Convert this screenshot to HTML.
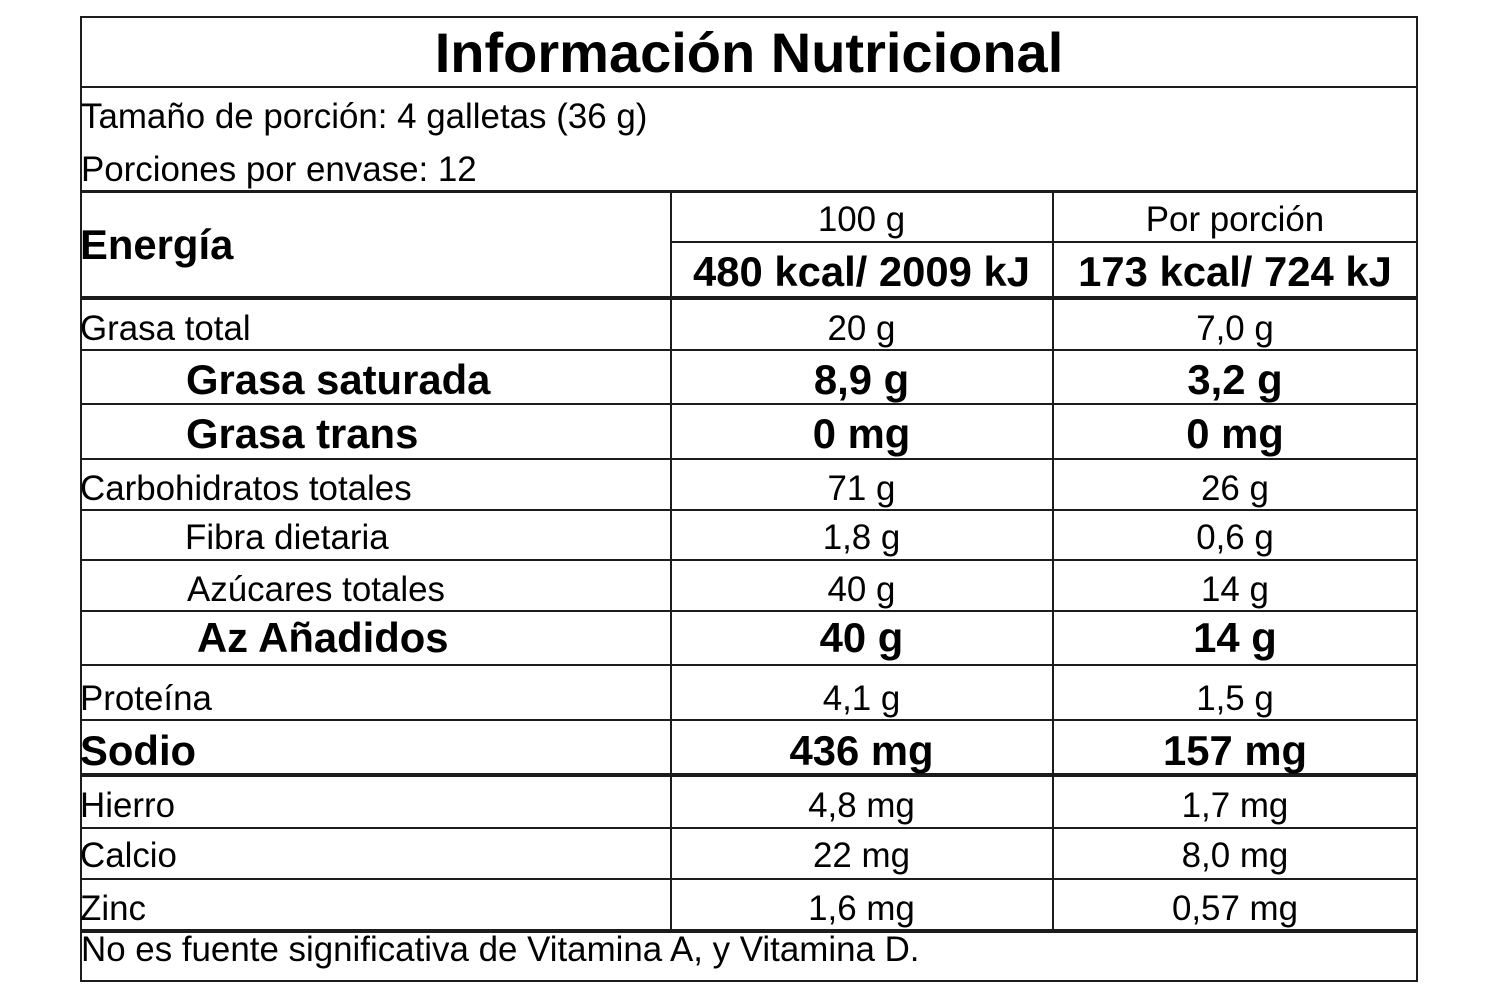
<!DOCTYPE html>
<html>
<head>
<meta charset="utf-8">
<style>
html,body{margin:0;padding:0;background:#fff;}
body{width:1500px;height:1000px;position:relative;overflow:hidden;font-family:"Liberation Sans",Arial,sans-serif;color:#000;}
.l{position:absolute;background:#1c1c1c;}
.t{position:absolute;white-space:nowrap;font-size:34.9px;line-height:34.9px;margin-top:-0.3px;}
.b{font-weight:bold;font-size:41.8px;line-height:41.8px;}
.c2{left:671px;width:381px;text-align:center;}
.c3{left:1053px;width:364px;text-align:center;}
</style>
</head>
<body>
<!-- outer border -->
<div class="l" style="left:80px;top:16px;width:1338px;height:2px;"></div>
<div class="l" style="left:80px;top:980px;width:1338px;height:2px;"></div>
<div class="l" style="left:80px;top:16px;width:2px;height:966px;"></div>
<div class="l" style="left:1416px;top:16px;width:2px;height:966px;"></div>

<!-- horizontal lines -->
<div class="l" style="left:80px;top:86px;width:1338px;height:2px;"></div>
<div class="l" style="left:80px;top:189.5px;width:1338px;height:3px;"></div>
<div class="l" style="left:670px;top:240.5px;width:748px;height:2px;"></div>
<div class="l" style="left:80px;top:295.5px;width:1338px;height:4px;"></div>
<div class="l" style="left:80px;top:348.5px;width:1338px;height:2px;"></div>
<div class="l" style="left:80px;top:403px;width:1338px;height:2px;"></div>
<div class="l" style="left:80px;top:457.5px;width:1338px;height:2px;"></div>
<div class="l" style="left:80px;top:508.5px;width:1338px;height:2px;"></div>
<div class="l" style="left:80px;top:558.5px;width:1338px;height:2px;"></div>
<div class="l" style="left:80px;top:609.5px;width:1338px;height:2px;"></div>
<div class="l" style="left:80px;top:663.5px;width:1338px;height:2px;"></div>
<div class="l" style="left:80px;top:718.5px;width:1338px;height:2px;"></div>
<div class="l" style="left:80px;top:773px;width:1338px;height:4px;"></div>
<div class="l" style="left:80px;top:826.5px;width:1338px;height:2px;"></div>
<div class="l" style="left:80px;top:877.5px;width:1338px;height:2px;"></div>
<div class="l" style="left:80px;top:928.5px;width:1338px;height:4px;"></div>

<!-- vertical column lines -->
<div class="l" style="left:669.5px;top:190px;width:2px;height:740px;"></div>
<div class="l" style="left:1051.5px;top:190px;width:2px;height:740px;"></div>

<!-- title -->
<div class="t" style="left:81px;width:1336px;text-align:center;top:25.3px;font-weight:bold;font-size:56px;line-height:56px;">Información Nutricional</div>

<div class="t" style="left:81px;top:100.2px;">Tamaño de porción: 4 galletas (36 g)</div>
<div class="t" style="left:81px;top:153.4px;">Porciones por envase: 12</div>

<div class="t b" style="left:80px;top:224.2px;">Energía</div>
<div class="t c2" style="top:203.4px;">100 g</div>
<div class="t c3" style="top:203.4px;">Por porción</div>
<div class="t b c2" style="top:251.6px;">480 kcal/ 2009 kJ</div>
<div class="t b c3" style="top:251.6px;">173 kcal/ 724 kJ</div>

<div class="t" style="left:80px;top:312.4px;">Grasa total</div>
<div class="t c2" style="top:312.4px;">20 g</div>
<div class="t c3" style="top:312.4px;">7,0 g</div>

<div class="t b" style="left:186px;top:358.9px;">Grasa saturada</div>
<div class="t b c2" style="top:358.9px;">8,9 g</div>
<div class="t b c3" style="top:358.9px;">3,2 g</div>

<div class="t b" style="left:186px;top:413.4px;">Grasa trans</div>
<div class="t b c2" style="top:413.4px;">0 mg</div>
<div class="t b c3" style="top:413.4px;">0 mg</div>

<div class="t" style="left:80px;top:472.4px;">Carbohidratos totales</div>
<div class="t c2" style="top:472.4px;">71 g</div>
<div class="t c3" style="top:472.4px;">26 g</div>

<div class="t" style="left:185px;top:521.7px;">Fibra dietaria</div>
<div class="t c2" style="top:521.7px;">1,8 g</div>
<div class="t c3" style="top:521.7px;">0,6 g</div>

<div class="t" style="left:187px;top:573.2px;">Azúcares totales</div>
<div class="t c2" style="top:573.2px;">40 g</div>
<div class="t c3" style="top:573.2px;">14 g</div>

<div class="t b" style="left:197px;top:617.5px;">Az Añadidos</div>
<div class="t b c2" style="top:617.5px;">40 g</div>
<div class="t b c3" style="top:617.5px;">14 g</div>

<div class="t" style="left:80px;top:682.4px;">Proteína</div>
<div class="t c2" style="top:682.4px;">4,1 g</div>
<div class="t c3" style="top:682.4px;">1,5 g</div>

<div class="t b" style="left:80px;top:730.6px;">Sodio</div>
<div class="t b c2" style="top:730.6px;">436 mg</div>
<div class="t b c3" style="top:730.6px;">157 mg</div>

<div class="t" style="left:80px;top:789.5px;">Hierro</div>
<div class="t c2" style="top:789.5px;">4,8 mg</div>
<div class="t c3" style="top:789.5px;">1,7 mg</div>

<div class="t" style="left:80px;top:839.7px;">Calcio</div>
<div class="t c2" style="top:839.7px;">22 mg</div>
<div class="t c3" style="top:839.7px;">8,0 mg</div>

<div class="t" style="left:80px;top:892.5px;">Zinc</div>
<div class="t c2" style="top:892.5px;">1,6 mg</div>
<div class="t c3" style="top:892.5px;">0,57 mg</div>

<div class="t" style="left:81px;top:933px;">No es fuente significativa de Vitamina A, y Vitamina D.</div>
</body>
</html>
